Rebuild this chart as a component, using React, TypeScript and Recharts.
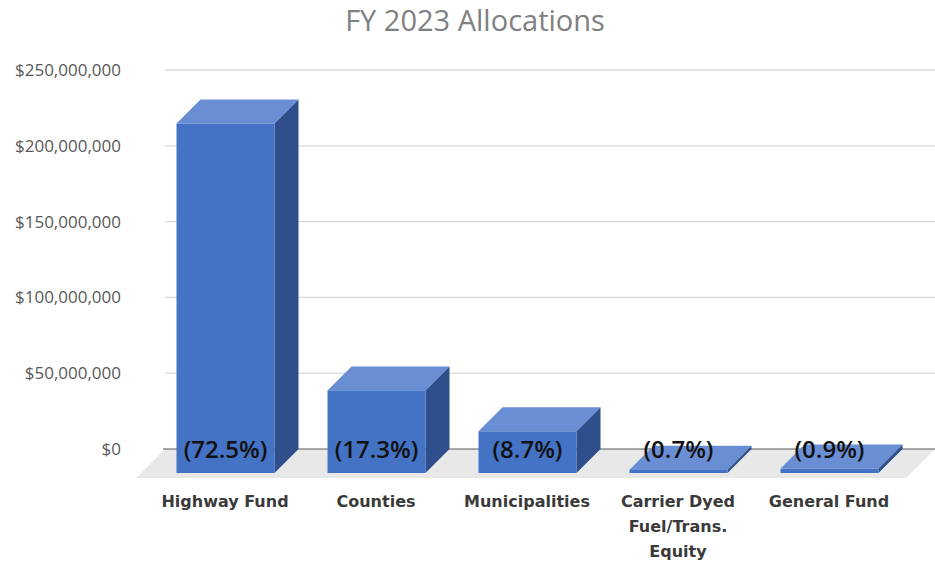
import React from "react";
import { BarChart, Bar, XAxis, YAxis, CartesianGrid } from "recharts";

const categories = [
  "Highway Fund",
  "Counties",
  "Municipalities",
  "Carrier Dyed Fuel/Trans. Equity",
  "General Fund",
];
const tickLines = [
  ["Highway Fund"],
  ["Counties"],
  ["Municipalities"],
  ["Carrier Dyed", "Fuel/Trans.", "Equity"],
  ["General Fund"],
];
const amounts = [230500000, 54500000, 27500000, 2200000, 2900000];
const shares = ["(72.5%)", "(17.3%)", "(8.7%)", "(0.7%)", "(0.9%)"];
const yTicks = [0, 50000000, 100000000, 150000000, 200000000, 250000000];

const data = categories.map((name, i) => ({
  name,
  value: amounts[i],
  share: shares[i],
}));

const DEPTH = 24;
const FRONT = "#4472c4";
const TOP = "#6a8ed4";
const SIDE = "#2e4f8c";

const fmtMoney = (v: number) => "$" + v.toLocaleString("en-US");

// 3D-ish box: recharts rect is the back plane, front face is shifted down-left
function BoxShape(props: any) {
  const { x, y, width: w, height: h, payload } = props;
  const d = DEPTH;
  const fx = x - d;
  const fy = y + d;
  return (
    <g>
      <polygon
        points={`${fx},${fy} ${x},${y} ${x + w},${y} ${x + w - d},${fy}`}
        fill={TOP}
      />
      <polygon
        points={`${x + w - d},${fy} ${x + w},${y} ${x + w},${y + h} ${x + w - d},${y + h + d}`}
        fill={SIDE}
      />
      <rect x={fx} y={fy} width={w} height={h} fill={FRONT} />
      <text
        x={fx + w / 2}
        y={y + h + 9}
        textAnchor="middle"
        fontFamily="'Open Sans', sans-serif"
        fontWeight={600}
        fontSize={24}
        fill="#111"
      >
        {payload.share}
      </text>
    </g>
  );
}

// grid line; the zero line also gets the grey floor in front of it
function GridLine(props: any) {
  const { x1, x2, y1, y, height } = props;
  const isBase = y != null && height != null && Math.abs(y1 - (y + height)) < 1;
  if (isBase) {
    const fd = 29;
    return (
      <g>
        <polygon
          points={`${x1},${y1} ${x2},${y1} ${x2 - fd},${y1 + fd} ${x1 - fd},${y1 + fd}`}
          fill="#e8e8e8"
        />
        <line x1={x1 - 2} y1={y1} x2={x2} y2={y1} stroke="#595959" strokeWidth={1.2} />
      </g>
    );
  }
  return <line x1={x1} y1={y1} x2={x2} y2={y1} stroke="#d9d9d9" strokeWidth={1.3} />;
}

function CategoryTick(props: any) {
  const { x, y, index } = props;
  const lines = tickLines[index] || [];
  return (
    <g>
      {lines.map((t: string, i: number) => (
        <text
          key={i}
          x={x - DEPTH}
          y={y + 58 + i * 25}
          textAnchor="middle"
          fontFamily="'DejaVu Sans', sans-serif"
          fontWeight="bold"
          fontSize={16}
          fill="#3a3a3a"
        >
          {t}
        </text>
      ))}
    </g>
  );
}

export default function App() {
  return (
    <div style={{ position: "absolute", left: 0, top: 0, width: 935, height: 567, background: "#fff" }}>
      <div
        style={{
          position: "absolute",
          left: 0,
          width: 950,
          top: 0,
          textAlign: "center",
          fontFamily: "'Open Sans', sans-serif",
          fontSize: 29,
          color: "#808080",
        }}
      >
        FY 2023 Allocations
      </div>
      <BarChart
        width={935}
        height={567}
        data={data}
        margin={{ top: 70, right: 0, bottom: 0, left: 0 }}
      >
        <CartesianGrid vertical={false} horizontal={GridLine} />
        <XAxis
          dataKey="name"
          axisLine={false}
          tickLine={false}
          tickSize={0}
          tickMargin={0}
          height={118}
          padding={{ left: 8.5, right: 6.5 }}
          interval={0}
          tick={CategoryTick}
        />
        <YAxis
          domain={[0, 250000000]}
          ticks={yTicks}
          width={165}
          axisLine={false}
          tickLine={false}
          tickSize={0}
          tickMargin={44}
          tickFormatter={fmtMoney}
          tick={{ fontFamily: "'Open Sans', sans-serif", fontSize: 17, fill: "#595959" }}
        />
        <Bar dataKey="value" barSize={98} shape={BoxShape} isAnimationActive={false} />
      </BarChart>
    </div>
  );
}
